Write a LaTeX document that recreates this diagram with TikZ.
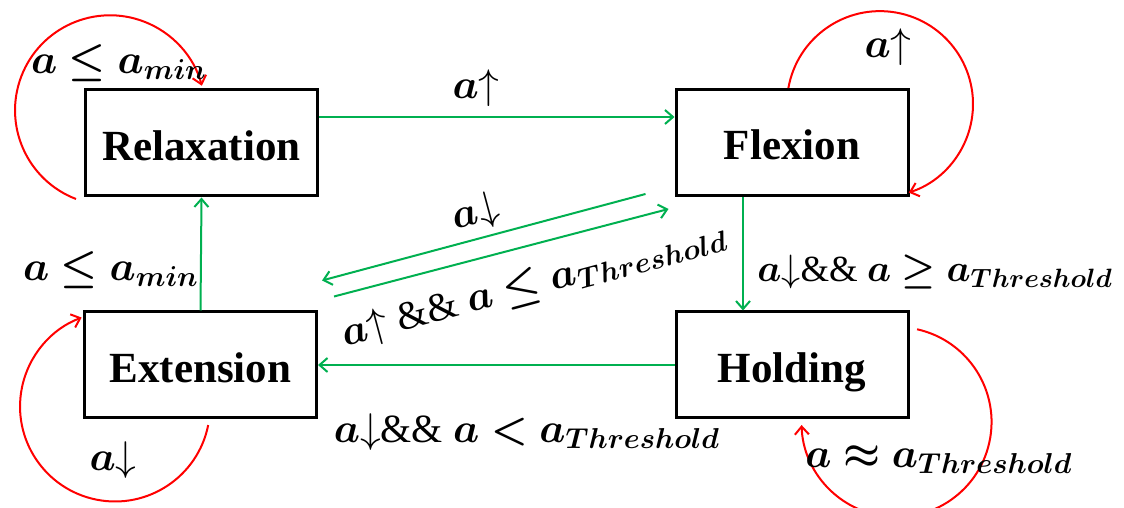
\documentclass[tikz,border=0pt]{standalone}
\usepackage{fontspec}
\setmainfont{Liberation Serif}
\usepackage{amsmath,bm}
\usetikzlibrary{arrows.meta,calc}
\definecolor{lgreen}{RGB}{0,176,80}
\definecolor{lred}{RGB}{255,0,0}
\begin{document}
\begin{tikzpicture}[x=0.5pt,y=0.5pt,
 state/.style={draw,line width=1.5pt,minimum width=116pt,minimum height=53pt,inner sep=0pt,text height=19pt,text depth=1.8pt,font=\bfseries\fontsize{21.5}{25}\selectfont},
 trans/.style={draw=lgreen,line width=1pt,-{Straight Barb[length=4pt,width=7pt]}},
 selfloop/.style={draw=lred,line width=1pt,-{Straight Barb[length=4pt,width=7pt]}},
 lbl/.style={font=\fontsize{20}{24}\selectfont,inner sep=0pt}]
\useasboundingbox (0,0) rectangle (1124,508);
\node[state] (R) at (201.5,365) {Relaxation};
\node[state] (F) at (792,365.5) {Flexion};
\node[state] (E) at (200.5,143) {Extension};
\node[state] (H) at (792,143) {Holding};
% transitions
\draw[trans] (R.east |- 0,391) -- (F.west |- 0,391);
\draw[trans] ($(F.south)+(-49,0)$) -- ($(H.north)+(-49,0)$);
\draw[trans] (H.west) -- (E.east);
\draw[trans] (E.north) -- (R.south);
\draw[trans] ($(F.south west)+(-29,3)$) -- ($(E.north east)+(4,30)$);
\draw[trans] ($(E.north east)+(16,14)$) -- ($(F.south west)+(-6,-12)$);
% self loops
\draw[selfloop] ($(R.west)+(-8,-56)$) arc[start angle=249,end angle=15,radius=47.5pt];
\draw[selfloop] ($(F.north)+(-3.6,0)$) arc[start angle=170,end angle=-72,radius=46.5pt];
\draw[selfloop] ($(E.south)+(7.7,-5.6)$) arc[start angle=-11.3,end angle=-249.4,radius=47.5pt];
\draw[selfloop] ($(H.east)+(7.6,35.7)$) arc[start angle=77.5,end angle=-178.2,radius=47.5pt];
% labels
\node[lbl] (l1) at (119,445) {$\bm{a \leq a_{min}}$};
\node[lbl] (l2) at (476,420) {$\bm{a}{\uparrow}$};
\node[lbl] (l3) at (888,461) {$\bm{a}{\uparrow}$};
\node[lbl,rotate=15] (l4) at (476,295) {$\bm{a}{\downarrow}$};
\node[lbl] (l5) at (111,238) {$\bm{a \leq a_{min}}$};
\node[lbl,anchor=west,transform shape,scale=0.92] (l6) at (757,236) {$\bm{a}{\downarrow}$\&\& $\bm{a \geq a_{Threshold}}$};
\node[lbl,rotate=15] (l7) at (534,223) {$\bm{a}{\uparrow}$ \&\& $\bm{a \leq a_{Threshold}}$};
\node[lbl] (l8) at (527,76) {$\bm{a}{\downarrow}$\&\& $\bm{a < a_{Threshold}}$};
\node[lbl] (l9) at (939,48) {$\bm{a \approx a_{Threshold}}$};
\node[lbl] (l10) at (113,48) {$\bm{a}{\downarrow}$};
\end{tikzpicture}
\end{document}
